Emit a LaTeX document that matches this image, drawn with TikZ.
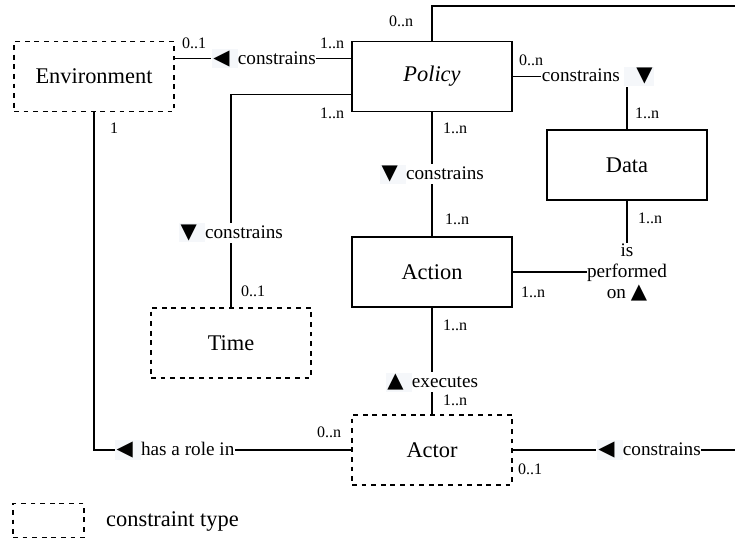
\documentclass[tikz,border=0pt]{standalone}
\usepackage{fontspec}
\setmainfont{Liberation Serif}
\newfontfamily\symfont{DejaVu Sans}[Scale=1.1]
\usetikzlibrary{calc}
\definecolor{trib}{RGB}{245,247,250}
\newcommand\tril[1]{{\setlength{\fboxsep}{1.5pt}\colorbox{trib}{\symfont #1\ }}}
\newcommand\trir[1]{{\setlength{\fboxsep}{1.5pt}\colorbox{trib}{\hspace{11pt}\symfont #1}}}
\newcommand\trin[1]{{\symfont #1}}
\begin{document}
\begin{tikzpicture}[x=1pt,y=-1pt,
  box/.style={draw, line width=1.7pt, minimum width=160pt, minimum height=70pt, inner sep=0pt, font=\fontsize{22.4}{26}\selectfont},
  ctype/.style={box, dash pattern=on 4.8pt off 4.8pt},
  conn/.style={line width=1.7pt},
  lbl/.style={fill=white, inner sep=0.5pt, font=\fontsize{19.2}{22}\selectfont, align=center},
  mult/.style={inner sep=0pt, font=\fontsize{16}{18}\selectfont}
]
\useasboundingbox (0,0) rectangle (735,539);
\clip (0,0) rectangle (735,539);

% classes
\node[ctype] (env) at (94,76.5) {Environment};
\node[box] (pol) at (432,76.5) {\itshape Policy};
\node[box] (data) at (627,165) {Data};
\node[box] (act) at (432,272) {Action};
\node[ctype] (time) at (231,343) {Time};
\node[ctype] (actor) at (432,450) {Actor};

% legend
\node[ctype, minimum width=71pt, minimum height=34pt] (leg) at (48.5,520.5) {};
\node[font=\fontsize{22.4}{26}\selectfont, anchor=west, inner sep=0pt] (legt) at (106,521) {constraint type};

% connectors
\coordinate (far) at (738,6);
\draw[conn] ($(env.north east)!0.25!(env.south east)$) -- ($(pol.north west)!0.25!(pol.south west)$)
  node[lbl, pos=0.505] (l1) {\tril{◀}constrains};
\draw[conn] ([yshift=-18pt]pol.west) -| (time.north)
  node[lbl, pos=0.825] (l2) {\tril{▼}constrains};
\draw[conn] (pol.east) -| (data.north)
  node[lbl, pos=0.5, xshift=-29pt] (l3) {constrains\hspace{4pt}\trir{▼}};
\draw[conn] (pol.south) -- (act.north)
  node[lbl, midway] (l4) {\tril{▼}constrains};
\draw[conn] (data.south) |- (act.east)
  node[lbl, pos=0.5] (l5) {is\\[-1pt]performed\\[-1pt]on \trin{▲}};
\draw[conn] (act.south) -- (actor.north)
  node[lbl, pos=0.70] (l6) {\tril{▲}executes};
\draw[conn] (env.south) |- (actor.west)
  node[lbl, pos=0.657] (l7) {\tril{◀}has a role in};
\draw[conn] (pol.north) |- (far) |- (actor.east)
  node[lbl, pos=0.698] (l8) {\tril{◀}constrains};

% multiplicities
\node[mult] (m1) at (194,43) {0..1};
\node[mult] (m2) at (332,43) {1..n};
\node[mult] (m3) at (332,113) {1..n};
\node[mult] (m4) at (401,21) {0..n};
\node[mult] (m5) at (531,60) {0..n};
\node[mult] (m6) at (647,113) {1..n};
\node[mult] (m7) at (455,128) {1..n};
\node[mult] (m8) at (457,219) {1..n};
\node[mult] (m9) at (650,218) {1..n};
\node[mult] (m10) at (533,292) {1..n};
\node[mult] (m11) at (253,291) {0..1};
\node[mult] (m12) at (455,325) {1..n};
\node[mult] (m13) at (455,400) {1..n};
\node[mult] (m14) at (329,432) {0..n};
\node[mult] (m15) at (530,469) {0..1};
\node[mult] (m16) at (114,128) {1};
\end{tikzpicture}
\end{document}
